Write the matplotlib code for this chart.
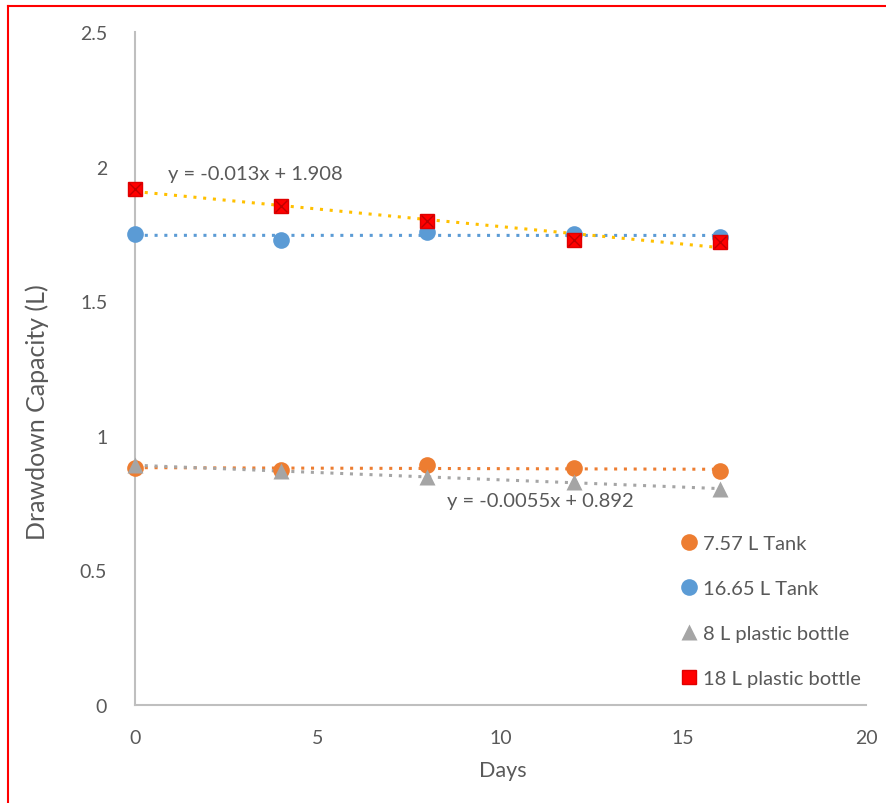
import numpy as np
import matplotlib
matplotlib.use("Agg")
from matplotlib import pyplot as plt
from matplotlib.lines import Line2D

plt.rcParams['font.family'] = ['Lato', 'DejaVu Sans']

days = [0, 4, 8, 12, 16]
tank_757 = [0.880, 0.873, 0.891, 0.880, 0.869]
tank_1665 = [1.750, 1.727, 1.757, 1.750, 1.738]
bottle_8 = [0.890, 0.869, 0.847, 0.828, 0.802]
bottle_18 = [1.917, 1.854, 1.798, 1.727, 1.720]

labels = ['7.57 L Tank', '16.65 L Tank', '8 L plastic bottle', '18 L plastic bottle']
eq_18 = 'y = -0.013x + 1.908'
eq_8 = 'y = -0.0055x + 0.892'

text_col = '#595959'
axis_col = '#BFBFBF'

fig = plt.figure(figsize=(8.87, 8.04), dpi=100)
ax = fig.add_axes([0.1522, 0.1219, 0.8241, 0.8371])

x = np.array(days)

# trendlines (linear fit), drawn first
def trend(y, color):
    k, b = np.polyfit(x, y, 1)
    ax.plot(x, k * x + b, linestyle=(0, (1, 2.2)), color=color, lw=2.2, zorder=2)

trend(tank_757, '#ED7D31')
trend(tank_1665, '#5B9BD5')
trend(bottle_8, '#A5A5A5')
trend(bottle_18, '#FFC000')

ax.plot(days, tank_757, 'o', color='#ED7D31', ms=12, mec='none', zorder=3, label=labels[0])
ax.plot(days, tank_1665, 'o', color='#5B9BD5', ms=12, mec='none', zorder=3, label=labels[1])
ax.plot(days, bottle_8, '^', color='#A5A5A5', ms=12, mec='none', zorder=3, label=labels[2])
ax.plot(days, bottle_18, 's', color='#FF0000', ms=10.5, mec='#E00000', zorder=4, label=labels[3])
ax.plot(days, bottle_18, 'x', color='#C00000', ms=8, mew=1, zorder=5)

ax.text(0.9, 1.976, eq_18, fontsize=14.5, color=text_col, va='center', ha='left')
ax.text(8.54, 0.758, eq_8, fontsize=14.5, color=text_col, va='center', ha='left')

ax.set_xlim(0, 20)
ax.set_ylim(0, 2.5)
ax.set_xticks([0, 5, 10, 15, 20])
ax.set_yticks([0, 0.5, 1, 1.5, 2, 2.5])
ax.set_yticklabels(['0', '0.5', '1', '1.5', '2', '2.5'])
ax.tick_params(length=0, labelsize=14, labelcolor=text_col)
ax.tick_params(axis='x', pad=17)
ax.tick_params(axis='y', pad=20)
for s in ['top', 'right']:
    ax.spines[s].set_visible(False)
for s in ['left', 'bottom']:
    ax.spines[s].set_color(axis_col)
    ax.spines[s].set_linewidth(1.5)
for ln in ax.lines:
    ln.set_clip_on(False)

fig.text(503 / 887, 1 - 771 / 804, 'Days', fontsize=15.5, color=text_col, ha='center', va='center')
fig.text(37 / 887, 1 - 412 / 804, 'Drawdown Capacity (L)', fontsize=18, color=text_col,
         ha='center', va='center', rotation=90)

ax.legend(loc='upper left', bbox_to_anchor=(0.754, 0.343), bbox_transform=fig.transFigure,
          frameon=False, fontsize=14.5, labelcolor=text_col, handletextpad=0.1,
          labelspacing=1.38, handlelength=1.2, borderaxespad=0)

# red frame (left and top edges)
fig.add_artist(Line2D([8 / 887, 8 / 887], [0, 1 - 7 / 804], color='red', lw=1.5, transform=fig.transFigure))
fig.add_artist(Line2D([8 / 887, 1], [1 - 7 / 804, 1 - 7 / 804], color='red', lw=1.5, transform=fig.transFigure))

fig.savefig('out.png', dpi=100)
